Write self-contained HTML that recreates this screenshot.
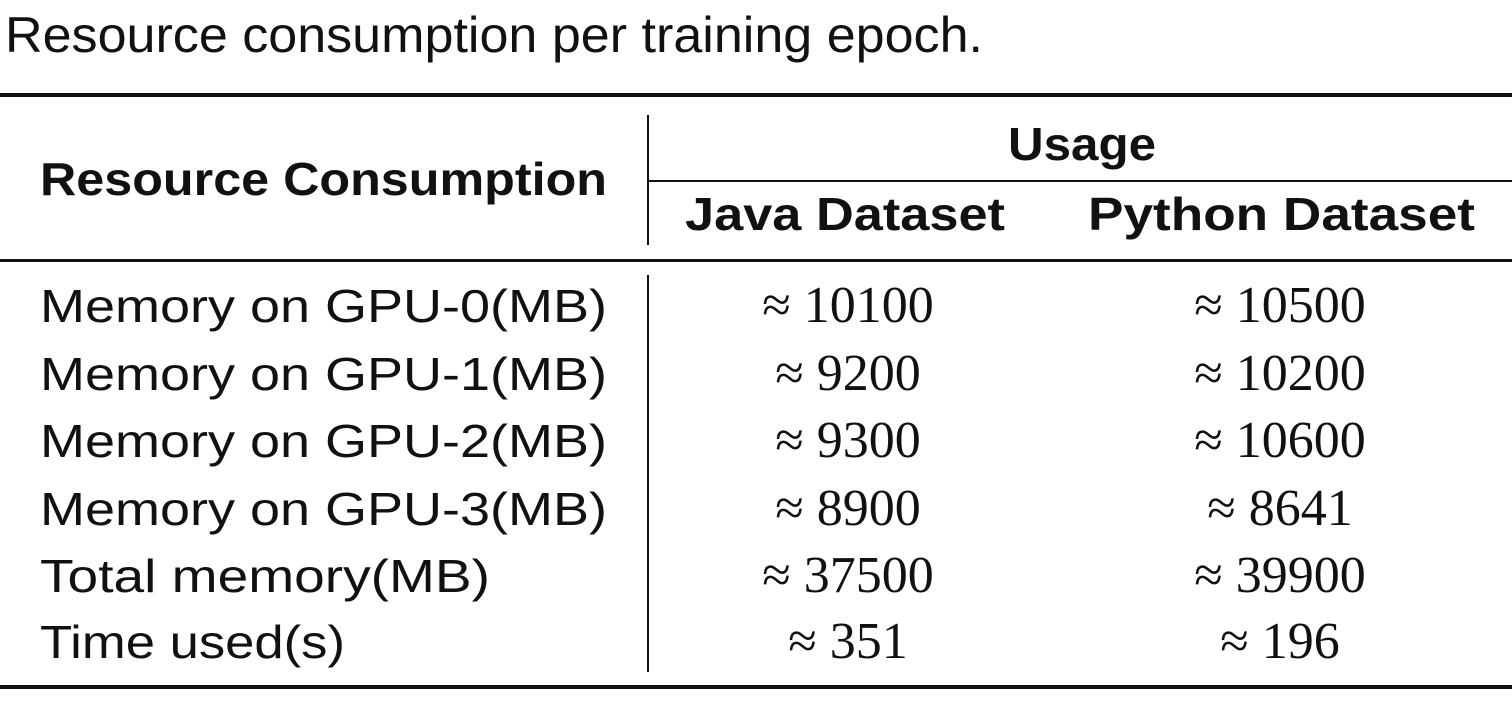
<!DOCTYPE html>
<html><head><meta charset="utf-8"><style>
html,body{margin:0;padding:0;background:#fff;}
svg{display:block}
.s{font-family:"Liberation Sans",sans-serif;font-size:46px;fill:#111}
.c{font-family:"Liberation Sans",sans-serif;font-size:50px;fill:#111}
.b{font-family:"Liberation Sans",sans-serif;font-size:46px;font-weight:bold;fill:#111}
.n{font-family:"Liberation Serif",serif;font-size:52px;fill:#111}
</style></head><body>
<svg width="1512" height="710" viewBox="0 0 1512 710">
<text class="c" x="5" y="52" textLength="978" lengthAdjust="spacingAndGlyphs">Resource consumption per training epoch.</text>
<rect x="0" y="93" width="1512" height="4" fill="#111"/>
<rect x="647" y="115" width="2" height="130" fill="#111"/>
<rect x="647" y="275" width="2" height="397" fill="#111"/>
<rect x="648" y="180" width="864" height="2" fill="#111"/>
<rect x="0" y="259" width="1512" height="3" fill="#111"/>
<rect x="0" y="685" width="1512" height="4" fill="#111"/>
<text class="b" x="40" y="195" textLength="567" lengthAdjust="spacingAndGlyphs">Resource Consumption</text>
<text class="b" x="1008" y="160" textLength="148" lengthAdjust="spacingAndGlyphs">Usage</text>
<text class="b" x="685" y="230" textLength="320" lengthAdjust="spacingAndGlyphs">Java Dataset</text>
<text class="b" x="1088" y="230" textLength="387" lengthAdjust="spacingAndGlyphs">Python Dataset</text>

<text class="s" x="40" y="322" textLength="567" lengthAdjust="spacingAndGlyphs">Memory on GPU-0(MB)</text>
<text class="s" x="40" y="390" textLength="567" lengthAdjust="spacingAndGlyphs">Memory on GPU-1(MB)</text>
<text class="s" x="40" y="457" textLength="567" lengthAdjust="spacingAndGlyphs">Memory on GPU-2(MB)</text>
<text class="s" x="40" y="525" textLength="567" lengthAdjust="spacingAndGlyphs">Memory on GPU-3(MB)</text>
<text class="s" x="40" y="592" textLength="450" lengthAdjust="spacingAndGlyphs">Total memory(MB)</text>
<text class="s" x="40" y="658" textLength="305" lengthAdjust="spacingAndGlyphs">Time used(s)</text>

<g text-anchor="middle">
<text class="n" x="848" y="322">≈ 10100</text>
<text class="n" x="1280" y="322">≈ 10500</text>
<text class="n" x="848" y="390">≈ 9200</text>
<text class="n" x="1280" y="390">≈ 10200</text>
<text class="n" x="848" y="457">≈ 9300</text>
<text class="n" x="1280" y="457">≈ 10600</text>
<text class="n" x="848" y="525">≈ 8900</text>
<text class="n" x="1280" y="525">≈ 8641</text>
<text class="n" x="848" y="592">≈ 37500</text>
<text class="n" x="1280" y="592">≈ 39900</text>
<text class="n" x="848" y="658">≈ 351</text>
<text class="n" x="1280" y="658">≈ 196</text>
</g>
</svg>
</body></html>
